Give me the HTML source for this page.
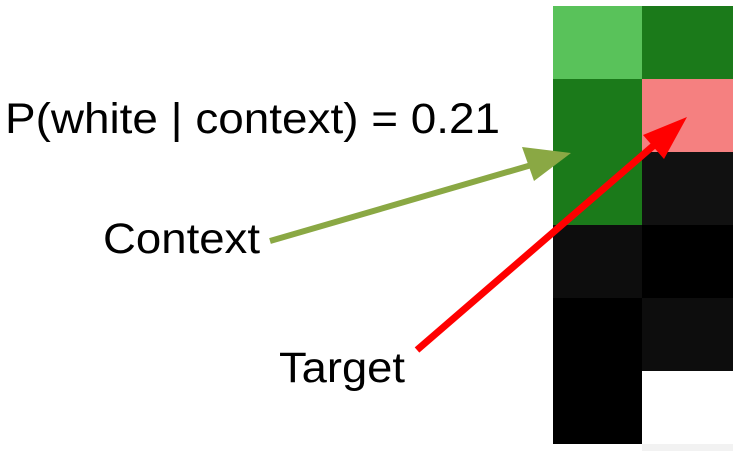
<!DOCTYPE html>
<html><head><style>
body{margin:0;width:740px;height:451px;background:#fff;overflow:hidden}
</style></head><body>
<svg width="740" height="451" viewBox="0 0 740 451" xmlns="http://www.w3.org/2000/svg">
<rect x="553" y="6" width="89" height="73" fill="#59c25a"/>
<rect x="642" y="6" width="91" height="73" fill="#1b7a1a"/>
<rect x="553" y="79" width="89" height="73" fill="#1b7a1a"/>
<rect x="642" y="79" width="91" height="73" fill="#f58080"/>
<rect x="553" y="152" width="89" height="73" fill="#1b7a1a"/>
<rect x="642" y="152" width="91" height="73" fill="#111"/>
<rect x="553" y="225" width="89" height="73" fill="#0d0d0d"/>
<rect x="642" y="225" width="91" height="73" fill="#000"/>
<rect x="553" y="298" width="89" height="73" fill="#000"/>
<rect x="642" y="298" width="91" height="73" fill="#0d0d0d"/>
<rect x="553" y="371" width="89" height="73" fill="#000"/>
<rect x="642" y="444" width="91" height="7" fill="#f2f2f2"/>
<line x1="270" y1="241" x2="535" y2="164" stroke="#8aa844" stroke-width="6"/>
<polygon points="571,153 522,147 534,181" fill="#8aa844"/>
<line x1="417" y1="350" x2="660" y2="140" stroke="#ff0000" stroke-width="7"/>
<polygon points="687,117 643,135 664,159" fill="#ff0000"/>
<g font-family="Liberation Sans, sans-serif" fill="#000">
<text x="5" y="133" font-size="43" textLength="495" lengthAdjust="spacingAndGlyphs">P(white | context) = 0.21</text>
<text x="103" y="253" font-size="43" textLength="157" lengthAdjust="spacingAndGlyphs">Context</text>
<text x="279" y="382" font-size="43" textLength="126" lengthAdjust="spacingAndGlyphs">Target</text>
</g>
</svg>
</body></html>
